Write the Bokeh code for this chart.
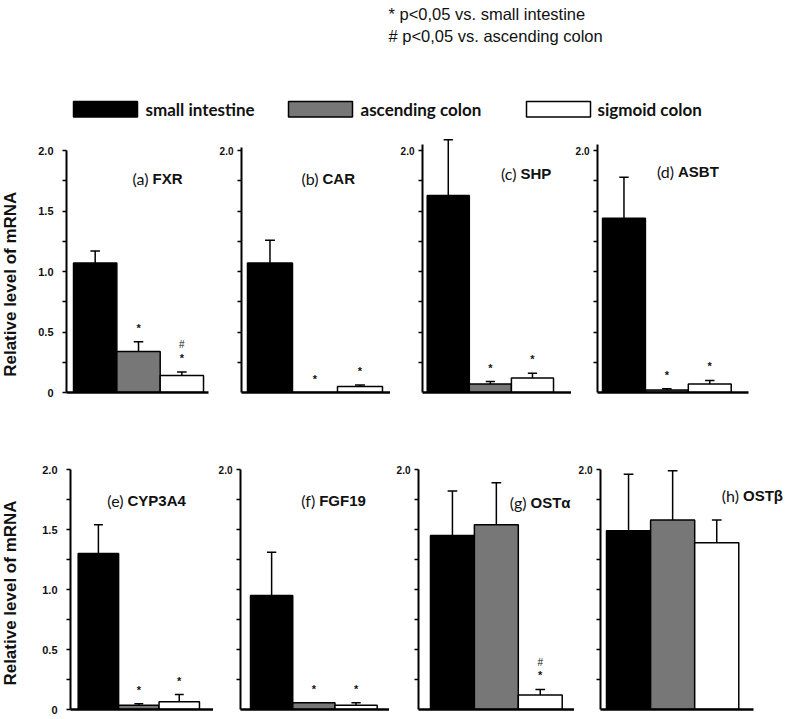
import math
from bokeh.plotting import figure
from bokeh.layouts import column, row
from bokeh.models import (Range1d, FixedTicker, Label, BoxAnnotation,
                          ColumnDataSource, LinearAxis, CustomJSTickFormatter)
from bokeh.core.properties import value
from bokeh.embed import file_html
from bokeh.resources import INLINE

# ---------------- data ----------------
tissues = ["small intestine", "ascending colon", "sigmoid colon"]
tissue_colors = ["#000000", "#777777", "#ffffff"]

panel_tags = ["(a)", "(b)", "(c)", "(d)", "(e)", "(f)", "(g)", "(h)"]
genes = ["FXR", "CAR", "SHP", "ASBT", "CYP3A4", "FGF19", "OSTα", "OSTβ"]

fxr_mean = [1.07, 0.34, 0.14]
fxr_err = [0.10, 0.08, 0.03]
fxr_sig = ["", "*", "*#"]

car_mean = [1.07, 0.0, 0.05]
car_err = [0.19, 0.0, 0.012]
car_sig = ["", "*", "*"]

shp_mean = [1.63, 0.07, 0.12]
shp_err = [0.46, 0.02, 0.04]
shp_sig = ["", "*", "*"]

asbt_mean = [1.44, 0.02, 0.07]
asbt_err = [0.34, 0.012, 0.03]
asbt_sig = ["", "*", "*"]

cyp3a4_mean = [1.30, 0.036, 0.064]
cyp3a4_err = [0.24, 0.012, 0.06]
cyp3a4_sig = ["", "*", "*"]

fgf19_mean = [0.95, 0.056, 0.036]
fgf19_err = [0.36, 0.0, 0.02]
fgf19_sig = ["", "*", "*"]

osta_mean = [1.45, 1.54, 0.12]
osta_err = [0.37, 0.35, 0.047]
osta_sig = ["", "", "*#"]

ostb_mean = [1.49, 1.58, 1.39]
ostb_err = [0.47, 0.41, 0.19]
ostb_sig = ["", "", ""]

note_lines = ["* p<0,05 vs. small intestine", "# p<0,05 vs. ascending colon"]
y_label = "Relative level of mRNA"

means = [fxr_mean, car_mean, shp_mean, asbt_mean, cyp3a4_mean, fgf19_mean, osta_mean, ostb_mean]
errs = [fxr_err, car_err, shp_err, asbt_err, cyp3a4_err, fgf19_err, osta_err, ostb_err]
sigs = [fxr_sig, car_sig, shp_sig, asbt_sig, cyp3a4_sig, fgf19_sig, osta_sig, ostb_sig]

# ---------------- layout (pixels) ----------------
# left border, frame width, right border, x start, x end, x-axis end
specs = [
    (46, 142, 2, 0.338, 3.615, 3.615),
    (31, 149, 0, 0.367, 3.678, 3.678),
    (32, 149, 0, 0.388, 3.927, 3.927),
    (26, 151, 38, 0.383, 3.903, 3.903),
    (50, 143, 0, 0.310, 3.847, 3.847),
    (27, 149, 0, 0.263, 3.791, 3.791),
    (29, 156, 0, 0.227, 3.780, 3.780),
    (26, 186, 0, 0.364, 4.582, 3.833),
]
title_pos = [(84, 214), (79, 214), (96, 219), (78.5, 221),
             (55, 209), (76.7, 209), (110, 207), (140.5, 214)]
axis_tops = [2.0, 2.03, 2.05, 2.05, 2.0, 2.0, 2.0, 2.0]

ROW_CFG = [
    dict(ymax=2.15, frame_h=260, top=4, bottom=18),
    dict(ymax=2.05, frame_h=246, top=53, bottom=9),
]
YTITLE_W = 20
YTITLE_Y = [108.3, 116.5]

SANS = "Liberation Sans"
CAL = "Lato"
TXT = "#111111"


def make_panel(i):
    r = 0 if i < 4 else 1
    cfg = ROW_CFG[r]
    left, fw, right, xs, xe, xaxis_end = specs[i]
    p = figure(frame_width=fw, frame_height=cfg["frame_h"],
               min_border_left=left, min_border_right=right,
               min_border_top=cfg["top"], min_border_bottom=cfg["bottom"],
               x_range=Range1d(xs, xe), y_range=Range1d(0, cfg["ymax"]),
               x_axis_type=None, y_axis_type=None,
               output_backend="svg", toolbar_location=None)
    p.outline_line_color = None
    p.background_fill_color = "white"
    p.border_fill_color = "white"

    full = i in (0, 4)
    if full:
        ticker = FixedTicker(ticks=[0, 0.5, 1.0, 1.5, 2.0], minor_ticks=[0.25, 0.75, 1.25, 1.75])
        fmt = CustomJSTickFormatter(code="return tick == 0 ? '0' : tick.toFixed(1)")
        fsize = "11px"
        standoff = 9
    else:
        ticker = FixedTicker(ticks=[2.0], minor_ticks=[0.25, 0.5, 0.75, 1.0, 1.25, 1.5, 1.75])
        fmt = CustomJSTickFormatter(code="return tick.toFixed(1)")
        fsize = "10px"
        standoff = 4
    yax = LinearAxis(ticker=ticker, formatter=fmt, bounds=(0, axis_tops[i]),
                     axis_line_width=2, axis_line_color="black",
                     major_tick_out=4, major_tick_in=0, major_tick_line_width=1.5,
                     minor_tick_out=4, minor_tick_in=0, minor_tick_line_width=1.5,
                     major_label_standoff=standoff,
                     major_label_text_font=SANS, major_label_text_font_style="bold",
                     major_label_text_font_size=fsize, major_label_text_color=TXT)
    p.add_layout(yax, "left")
    xax = LinearAxis(ticker=FixedTicker(ticks=[]), axis_line_width=2.5, axis_line_color="black",
                     bounds=(xs, xaxis_end),
                     major_tick_out=0, major_tick_in=0, minor_tick_out=0, minor_tick_in=0,
                     major_label_standoff=0, major_label_text_font_size="0px")
    p.add_layout(xax, "below")

    m = means[i]
    e = errs[i]
    xs_ = [1, 2, 3]
    src = ColumnDataSource(dict(x=xs_, top=m, color=tissue_colors, tissue=tissues))
    p.vbar(x="x", top="top", bottom=0, width=1, fill_color="color",
           line_color="black", line_width=1.5, source=src)

    ex = [xs_[k] for k in range(3) if e[k] > 0]
    et = [m[k] for k in range(3) if e[k] > 0]
    eu = [m[k] + e[k] for k in range(3) if e[k] > 0]
    cap = 0.11
    esrc = ColumnDataSource(dict(x=ex, top=et, up=eu,
                                 cl=[v - cap for v in ex], cr=[v + cap for v in ex]))
    p.segment(x0="x", y0="top", x1="x", y1="up", line_color="black", line_width=1.5, source=esrc)
    p.segment(x0="cl", y0="up", x1="cr", y1="up", line_color="black", line_width=1.5, source=esrc)

    s = sigs[i]
    st_x, st_y, h_x, h_y = [], [], [], []
    for k in range(3):
        if "*" in s[k]:
            st_x.append(xs_[k]); st_y.append(m[k] + e[k])
        if "#" in s[k]:
            h_x.append(xs_[k]); h_y.append(m[k] + e[k])
    if st_x:
        p.text(x=st_x, y=st_y, text=["*"] * len(st_x), text_align="center",
               text_baseline="middle", y_offset=-14, text_font=value(SANS),
               text_font_style="bold", text_font_size="11px", text_color=TXT)
    if h_x:
        p.text(x=h_x, y=h_y, text=["#"] * len(h_x), text_align="center",
               text_baseline="middle", y_offset=-27, text_font=value(SANS),
               text_font_size="10px", text_color=TXT)

    tx, ty = title_pos[i]
    p.add_layout(Label(x=tx - 2, y=ty, x_units="screen", y_units="screen", text=panel_tags[i],
                       text_align="right", text_baseline="middle", text_font=CAL,
                       text_font_size="16px", text_color=TXT))
    p.add_layout(Label(x=tx + 2, y=ty, x_units="screen", y_units="screen", text=genes[i],
                       text_align="left", text_baseline="middle", text_font=SANS,
                       text_font_style="bold", text_font_size="15px", text_color=TXT))
    return p


def make_ytitle(r):
    cfg = ROW_CFG[r]
    h = cfg["top"] + cfg["frame_h"] + cfg["bottom"]
    p = figure(width=YTITLE_W, height=h, x_range=Range1d(0, 1), y_range=Range1d(0, 1),
               x_axis_type=None, y_axis_type=None, output_backend="svg",
               toolbar_location=None, min_border=0)
    p.outline_line_color = None
    p.add_layout(Label(x=YTITLE_W / 2, y=YTITLE_Y[r], x_units="screen", y_units="screen",
                       text=y_label, angle=math.pi / 2, text_align="center",
                       text_baseline="middle", text_font=SANS, text_font_style="bold",
                       text_font_size="17px", text_color=TXT))
    return p


# ---------------- header ----------------
HDR_H = 128
hdr = figure(width=786, height=HDR_H, x_range=Range1d(0, 1), y_range=Range1d(0, 1),
             x_axis_type=None, y_axis_type=None, output_backend="svg",
             toolbar_location=None, min_border=0)
hdr.outline_line_color = None
for k, ny in enumerate([115, 92.5]):
    hdr.add_layout(Label(x=388, y=ny, x_units="screen", y_units="screen", text=note_lines[k],
                         text_baseline="middle", text_font=SANS, text_font_size="16.5px",
                         text_color=TXT))
swatch_left = [73, 288, 526]
swatch_w = 64
swatch_top, swatch_bottom = 101, 116.5
legend_text_x = [145, 360, 597]
for k in range(3):
    hdr.add_layout(BoxAnnotation(left=swatch_left[k], right=swatch_left[k] + swatch_w,
                                 top=swatch_top, bottom=swatch_bottom,
                                 left_units="canvas", right_units="canvas",
                                 top_units="canvas", bottom_units="canvas",
                                 fill_color=tissue_colors[k], fill_alpha=1,
                                 line_color="black", line_alpha=1, line_width=1.5,
                                 line_dash="solid"))
    hdr.add_layout(Label(x=legend_text_x[k], y=HDR_H - 108.5, x_units="screen", y_units="screen",
                         text=tissues[k], text_baseline="middle", text_font=CAL,
                         text_font_style="bold", text_font_size="17px", text_color=TXT))

panels = [make_panel(i) for i in range(8)]
layout = column(hdr,
                row(make_ytitle(0), *panels[:4]),
                row(make_ytitle(1), *panels[4:]))

open("out.html", "w").write(file_html(layout, INLINE))
